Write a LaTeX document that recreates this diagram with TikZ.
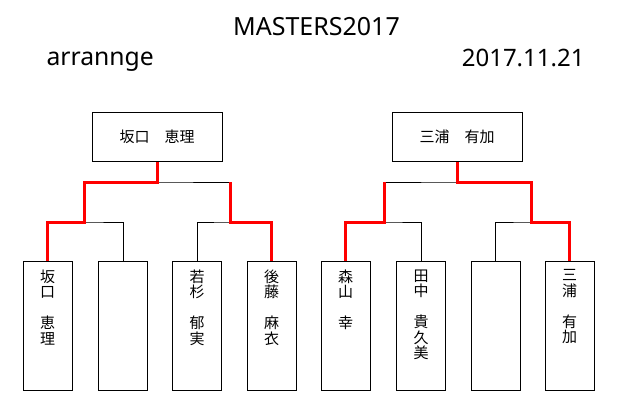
\documentclass[tikz,border=0pt]{standalone}
\usepackage{fontspec}
\setmainfont{Noto Sans}
\newfontfamily\jp{Noto Sans CJK JP}

\begin{document}
\begin{tikzpicture}[x = 1pt, y = -1pt, line width = 1pt]
\tikzstyle{WinnerBox}=[
shape = rectangle,
minimum width = 130pt,
minimum height = 49pt,
inner sep = 0pt,
font = \jp\fontsize{15}{15.5}\selectfont,
draw]
\tikzstyle{PlayerBox}=[
shape = rectangle,
minimum width = 49pt,
minimum height = 129pt,
inner sep = 0pt,
draw]
\tikzstyle{PlayerName}=[
anchor = north,
align = center,
inner sep = 0pt,
font = \jp\fontsize{15}{15.5}\selectfont]
\tikzstyle{WinLine}=[red, line width = 3pt]
\useasboundingbox (0, 0) rectangle (620, 400);
% headings
\node[anchor = base, inner sep = 0pt, font = \fontsize{25}{28}\selectfont] (title) at (316.5, 35) {MASTERS2017};
\node[anchor = base west, inner sep = 0pt, font = \fontsize{24.7}{28}\selectfont] (note) at (46, 65) {arrannge};
\node[anchor = base east, inner sep = 0pt, font = \fontsize{24}{28}\selectfont] (date) at (585, 66.5) {2017.11.21};
% winners
\node[WinnerBox] (w1) at (157, 136.5) {坂口　恵理};
\node[WinnerBox] (w2) at (457, 136.5) {三浦　有加};
% players
\node[PlayerBox] (p1) at (47.5, 325.5) {};
\node[PlayerBox] (p2) at (123, 325.5) {};
\node[PlayerBox] (p3) at (197, 325.5) {};
\node[PlayerBox] (p4) at (271.5, 325.5) {};
\node[PlayerBox] (p5) at (345.5, 325.5) {};
\node[PlayerBox] (p6) at (421, 325.5) {};
\node[PlayerBox] (p7) at (495.5, 325.5) {};
\node[PlayerBox] (p8) at (569.5, 325.5) {};
\node[PlayerName] (n1) at (47.5, 269) {坂\\口\\　\\恵\\理};
\node[PlayerName] (n3) at (197, 269) {若\\杉\\　\\郁\\実};
\node[PlayerName] (n4) at (271.5, 269) {後\\藤\\　\\麻\\衣};
\node[PlayerName] (n5) at (345.5, 269) {森\\山\\　\\幸};
\node[PlayerName] (n6) at (421, 269) {田\\中\\　\\貴\\久\\美};
\node[PlayerName] (n8) at (569.5, 269) {三\\浦\\　\\有\\加};
% junctions
\coordinate (m1) at (84, 222);
\coordinate (m2) at (230, 222);
\coordinate (m3) at (384, 222);
\coordinate (m4) at (531, 222);
\coordinate (f1) at (157, 182);
\coordinate (f2) at (457, 182);
% bracket
\draw (p1.north) |- (m1) -| (p2.north);
\draw (p3.north) |- (m2) -| (p4.north);
\draw (p5.north) |- (m3) -| (p6.north);
\draw (p7.north) |- (m4) -| (p8.north);
\draw (m1) |- (f1) -| (m2);
\draw (m3) |- (f2) -| (m4);
\draw (f1) -- (w1.south);
\draw (f2) -- (w2.south);
% results
\draw[WinLine] (p1.north) |- (m1) |- (f1) -- (w1.south);
\draw[WinLine] (p4.north) |- (m2) -- (m2 |- f1);
\draw[WinLine] (p5.north) |- (m3) -- (m3 |- f2);
\draw[WinLine] (p8.north) |- (m4) |- (f2) -- (w2.south);
\end{tikzpicture}
\end{document}
